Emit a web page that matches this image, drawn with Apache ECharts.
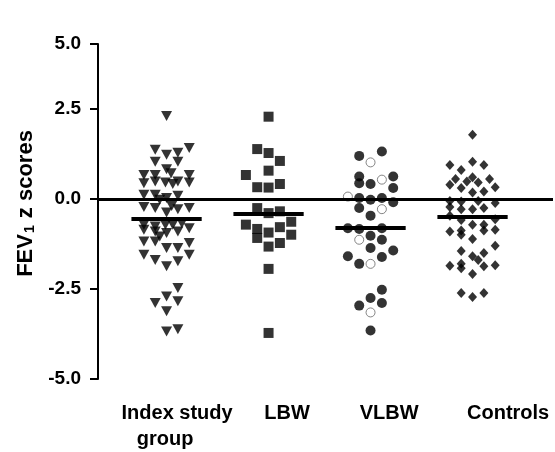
<!DOCTYPE html>
<html><head><meta charset="utf-8">
<script src="https://cdn.jsdelivr.net/npm/echarts@6/dist/echarts.min.js"></script>
<style>html,body{margin:0;padding:0;background:#fff}#c{width:555px;height:452px}</style>
</head><body><div id="c"></div>
<script>
// Group labels
const categories = ['Index study\ngroup', 'LBW', 'VLBW', 'Controls'];
// Y tick labels
const yTickLabels = ['-5.0', '-2.5', '0.0', '2.5', '5.0'];
// Points: [column offset within group, FEV1 z score]
const indexStudy = [
  [0, 2.31], [-1, 1.37], [0, 1.23], [1, 1.29], [2, 1.42], [-1, 1.04], [1, 1.04], [0, 0.83],
  [-2, 0.67], [-1, 0.67], [0.4, 0.72], [2, 0.67], [-2, 0.44], [-1, 0.49], [-0.1, 0.46], [0.55, 0.42],
  [1, 0.49], [2, 0.46], [-2, 0.12], [-1, 0.12], [-0.6, -0.02], [0, 0.03], [1, 0.09], [-2, -0.22],
  [-1, -0.25], [0, -0.37], [0.45, -0.19], [1, -0.28], [2, -0.25], [-2, -0.71], [-1, -0.76], [-0.1, -0.71],
  [0.55, -0.71], [1.35, -0.67], [2, -0.81], [-2, -0.85], [-1, -0.9], [-0.6, -1.04], [0, -0.94], [1, -0.9],
  [-2, -1.18], [-1, -1.18], [0, -1.36], [1, -1.36], [2, -1.22], [-2, -1.55], [-1, -1.69], [0, -1.87],
  [1, -1.73], [2, -1.55], [1, -2.47], [0, -2.71], [-1, -2.89], [1, -2.84], [0, -3.12], [0, -3.68], [1, -3.62]
];
const lbw = [
  [0, 2.29], [-1, 1.39], [0, 1.28], [1, 1.06], [0, 0.79], [-2, 0.67], [-1, 0.33], [0, 0.32],
  [1, 0.42], [-1, -0.25], [0, -0.39], [1, -0.34], [-2, -0.71], [-1, -0.83], [-1, -1.08], [0, -0.93],
  [1, -0.78], [2, -0.63], [2, -0.99], [0, -1.32], [1, -1.22], [0, -1.94], [0, -3.72]
];
const vlbwFilled = [
  [-1, 1.2], [1, 1.32], [-1, 0.63], [-1, 0.44], [0, 0.42], [2, 0.63], [2, 0.31], [-1, 0.03],
  [0, -0.02], [1, 0.03], [2, -0.09], [-1, -0.25], [0, -0.46], [-2, -0.81], [-1, -0.83], [1, -0.81],
  [0, -1.02], [1, -1.13], [0, -1.36], [2, -1.43], [-2, -1.59], [-1, -1.8], [1, -1.61], [1, -2.52],
  [0, -2.75], [1, -2.89], [-1, -2.96], [0, -3.65]
];
const vlbwOpen = [
  [0, 1.02], [1, 0.54], [-2, 0.07], [1, -0.28], [-1, -1.13], [0, -1.8], [0, -3.15]
];
const controls = [
  [0, 1.79], [-2, 0.95], [-1, 0.81], [0, 1.04], [1, 0.95], [-1.5, 0.56], [-2, 0.4], [-0.5, 0.49],
  [0, 0.61], [0.5, 0.46], [1.5, 0.56], [-1, 0.31], [0, 0.18], [1, 0.21], [2, 0.33], [-2, -0.05],
  [-1, -0.07], [0.5, -0.05], [2, -0.11], [-2, -0.22], [-1, -0.28], [0, -0.28], [1, -0.25], [-2, -0.46],
  [-1, -0.58], [2, -0.56], [0, -0.71], [1, -0.71], [-2, -0.9], [-1, -0.87], [-1, -0.99], [1, -0.87],
  [2, -0.85], [0, -1.11], [2, -1.3], [-1, -1.44], [1, -1.5], [0, -1.59], [0.5, -1.69], [-2, -1.85],
  [-1, -1.8], [-1, -1.92], [1, -1.87], [2, -1.84], [0, -2.08], [-1, -2.61], [0, -2.72], [1, -2.61]
];
// Group means
const means = [-0.55, -0.41, -0.79, -0.48];

// ---- layout (not data) ----
const GROUP_STEP = 9;          // columns between group centres
const MEAN_HALF = 3.1;         // half width of mean bar, in columns
const labelShift = [0.93, 1.64, 1.64, 3.14]; // label centre offset, in columns
const FONT = '"Liberation Sans", Arial, Helvetica, sans-serif';

const place = (pts, g) => pts.map(p => [g * GROUP_STEP + p[0], p[1]]);
const meanLine = g => ({
  symbol: 'none', silent: true,
  lineStyle: { color: '#000', width: 4, type: 'solid' },
  label: { show: false },
  data: [[{ coord: [g * GROUP_STEP - MEAN_HALF, means[g]] }, { coord: [g * GROUP_STEP + MEAN_HALF, means[g]] }]]
});

const labelPos = categories.map((c, g) => g * GROUP_STEP + labelShift[g]);
const labelText = g => {
  const lines = categories[g].split('\n');
  return lines.map((t, i) => (i === 0 ? '{a|' + t + '}' : '{b|' + t + '}')).join('\n');
};

const yMin = -5, yTop = 4.31;

const chart = echarts.init(document.getElementById('c'), null, { renderer: 'canvas' });
chart.setOption({
  animation: false,
  backgroundColor: '#fff',
  grid: { left: 98, right: 2, top: 44, bottom: 73, containLabel: false },
  xAxis: {
    type: 'value', min: -6.05, max: 34.1,
    axisLine: { show: false }, axisTick: { show: false }, splitLine: { show: false },
    axisLabel: {
      customValues: labelPos,
      margin: 21, verticalAlign: 'top',
      formatter: v => {
        let g = 0;
        labelPos.forEach((p, i) => { if (Math.abs(p - v) < Math.abs(labelPos[g] - v)) g = i; });
        return labelText(g);
      },
      rich: {
        a: { fontFamily: FONT, fontWeight: 'bold', fontSize: 20, color: '#000', lineHeight: 26 },
        b: { fontFamily: FONT, fontWeight: 'bold', fontSize: 20, color: '#000', lineHeight: 26, padding: [0, 24, 0, 0] }
      }
    }
  },
  yAxis: {
    type: 'value', min: yMin, max: yTop, interval: 2.5,
    name: '{a|FEV}{s|1}{a| z scores}',
    nameLocation: 'middle', nameGap: 60, nameRotate: 90,
    nameTextStyle: {
      padding: [0, 0, 0, 16],
      rich: {
        a: { fontFamily: FONT, fontWeight: 'bold', fontSize: 22, color: '#000' },
        s: { fontFamily: FONT, fontWeight: 'bold', fontSize: 14, color: '#000', verticalAlign: 'bottom', padding: [8, 1, 0, 1] }
      }
    },
    axisLine: { show: true, onZero: false, lineStyle: { color: '#000', width: 2 } },
    axisTick: { show: true, length: 8, lineStyle: { color: '#000', width: 2 } },
    splitLine: { show: false },
    axisLabel: {
      margin: 17, color: '#000', fontFamily: FONT, fontWeight: 'bold', fontSize: 19,
      showMaxLabel: true,
      formatter: v => {
        if (v > 2.5 + 1e-6) return yTickLabels[4];
        const i = Math.round((v - yMin) / 2.5);
        return yTickLabels[i];
      }
    }
  },
  series: [
    {
      type: 'scatter', name: 'Index study group', data: place(indexStudy, 0),
      symbol: 'triangle', symbolRotate: 180, symbolSize: [11, 10],
      itemStyle: { color: '#000' },
      markLine: {
        symbol: 'none', silent: true, label: { show: false },
        lineStyle: { color: '#000', width: 3, type: 'solid' },
        data: [{ yAxis: 0 }]
      }
    },
    {
      type: 'scatter', name: 'LBW', data: place(lbw, 1),
      symbol: 'rect', symbolSize: 10, itemStyle: { color: '#000' }
    },
    {
      type: 'scatter', name: 'VLBW', data: place(vlbwFilled, 2),
      symbol: 'circle', symbolSize: 10, itemStyle: { color: '#000' }
    },
    {
      type: 'scatter', name: 'VLBW open', data: place(vlbwOpen, 2),
      symbol: 'circle', symbolSize: 9, itemStyle: { color: '#fff', borderColor: '#666', borderWidth: 1 }
    },
    {
      type: 'scatter', name: 'Controls', data: place(controls, 3),
      symbol: 'diamond', symbolSize: [9, 10], itemStyle: { color: '#000' }
    },
    { type: 'scatter', data: [], markLine: meanLine(0) },
    { type: 'scatter', data: [], markLine: meanLine(1) },
    { type: 'scatter', data: [], markLine: meanLine(2) },
    { type: 'scatter', data: [], markLine: meanLine(3) }
  ]
});
</script>
</body></html>
